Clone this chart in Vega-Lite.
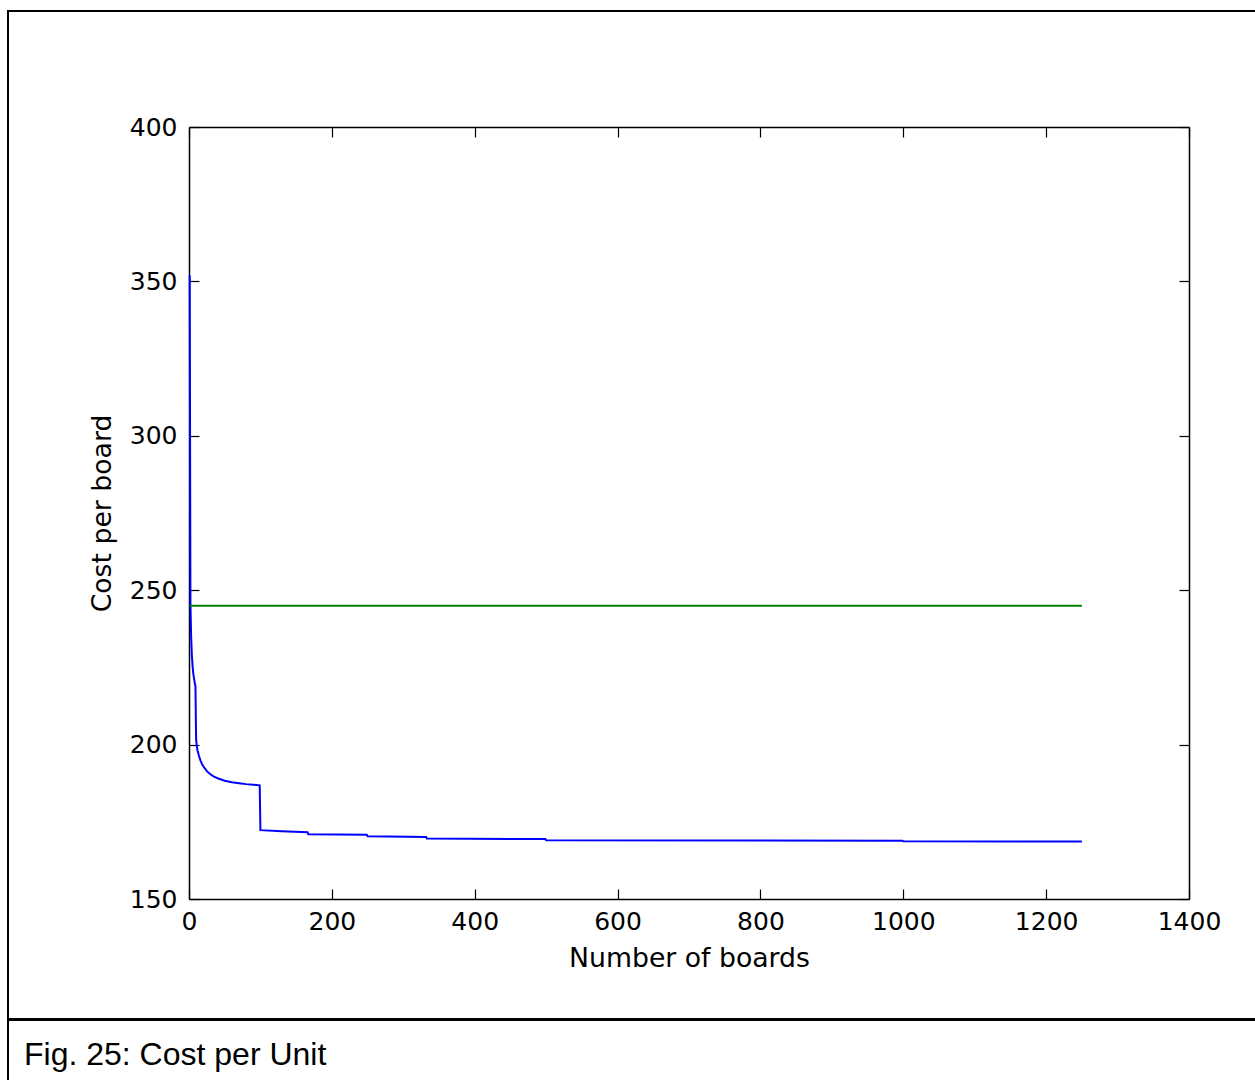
{
  "$schema": "https://vega.github.io/schema/vega-lite/v6.json",
  "padding": {"left": 7, "top": 10, "right": 0, "bottom": 0},
  "background": "white",
  "spacing": -1,
  "config": {
    "view": {"stroke": "black", "strokeWidth": 2},
    "axis": {
      "labelFont": "DejaVu Sans",
      "titleFont": "DejaVu Sans",
      "labelColor": "black",
      "titleColor": "black",
      "labelFontSize": 25,
      "titleFontSize": 26.7,
      "titleFontWeight": "normal",
      "labelFlush": false,
      "labelOverlap": false,
      "domainColor": "black",
      "domainWidth": 1.5,
      "tickColor": "black",
      "tickWidth": 1.2,
      "tickSize": -10,
      "grid": false,
      "zindex": 1
    }
  },
  "datasets": {
    "costPerBoard": [
      {"boards": 1, "cost": 352},
      {"boards": 2, "cost": 246},
      {"boards": 3, "cost": 235},
      {"boards": 4, "cost": 229},
      {"boards": 5, "cost": 225.5},
      {"boards": 6, "cost": 223},
      {"boards": 7, "cost": 221.5},
      {"boards": 8, "cost": 220},
      {"boards": 9, "cost": 219},
      {"boards": 10, "cost": 201.5},
      {"boards": 11, "cost": 199.3},
      {"boards": 12, "cost": 198.1},
      {"boards": 14, "cost": 196.3},
      {"boards": 16, "cost": 194.9},
      {"boards": 18, "cost": 193.8},
      {"boards": 20, "cost": 193.0},
      {"boards": 25, "cost": 191.4},
      {"boards": 30, "cost": 190.4},
      {"boards": 35, "cost": 189.6},
      {"boards": 40, "cost": 189.1},
      {"boards": 50, "cost": 188.3},
      {"boards": 60, "cost": 187.8},
      {"boards": 70, "cost": 187.5},
      {"boards": 80, "cost": 187.2},
      {"boards": 90, "cost": 187.0},
      {"boards": 99, "cost": 186.8},
      {"boards": 100, "cost": 172.3},
      {"boards": 130, "cost": 171.9},
      {"boards": 166, "cost": 171.6},
      {"boards": 167, "cost": 171.0},
      {"boards": 249, "cost": 170.8},
      {"boards": 250, "cost": 170.3},
      {"boards": 332, "cost": 170.1},
      {"boards": 333, "cost": 169.6},
      {"boards": 499, "cost": 169.4},
      {"boards": 500, "cost": 169.0},
      {"boards": 999, "cost": 168.9},
      {"boards": 1000, "cost": 168.7},
      {"boards": 1250, "cost": 168.6}
    ],
    "reference": [
      {"boards": 1, "cost": 245},
      {"boards": 1250, "cost": 245}
    ]
  },
  "vconcat": [
    {
      "width": 1249,
      "height": 1008,
      "layer": [
        {
          "data": {"name": "costPerBoard"},
          "mark": {"type": "line", "color": "#0000ff", "strokeWidth": 2},
          "encoding": {
            "x": {
              "field": "boards",
              "type": "quantitative",
              "scale": {"domain": [0, 1400], "range": [181, 1181], "nice": false, "zero": false},
              "axis": {
                "orient": "bottom",
                "offset": -120,
                "values": [0, 200, 400, 600, 800, 1000, 1200, 1400],
                "format": "d",
                "labelPadding": 20,
                "title": "Number of boards",
                "titlePadding": 11
              }
            },
            "y": {
              "field": "cost",
              "type": "quantitative",
              "scale": {"domain": [150, 400], "range": [888, 116], "nice": false, "zero": false},
              "axis": {
                "orient": "left",
                "offset": -181,
                "values": [150, 200, 250, 300, 350, 400],
                "format": "d",
                "labelPadding": 22,
                "title": "Cost per board",
                "titlePadding": 13
              }
            }
          }
        },
        {
          "data": {"name": "reference"},
          "mark": {"type": "line", "color": "#008000", "strokeWidth": 2},
          "encoding": {
            "x": {
              "field": "boards",
              "type": "quantitative",
              "axis": {
                "orient": "top",
                "offset": -116,
                "values": [0, 200, 400, 600, 800, 1000, 1200, 1400],
                "labels": false,
                "title": null
              }
            },
            "y": {
              "field": "cost",
              "type": "quantitative",
              "axis": {
                "orient": "right",
                "offset": -68,
                "values": [150, 200, 250, 300, 350, 400],
                "labels": false,
                "title": null
              }
            }
          }
        }
      ],
      "resolve": {"axis": {"x": "independent", "y": "independent"}}
    },
    {
      "width": 1249,
      "height": 63,
      "view": {"stroke": "black", "strokeWidth": 2, "fill": "white"},
      "title": {
        "text": "Fig. 25: Cost per Unit",
        "orient": "bottom",
        "anchor": "start",
        "frame": "group",
        "offset": -18,
        "baseline": "alphabetic",
        "dx": 16,
        "font": "Liberation Sans",
        "fontSize": 32,
        "fontWeight": "normal",
        "color": "black"
      },
      "data": {"values": []},
      "mark": "text",
      "encoding": {"text": {"field": "caption", "type": "nominal"}}
    }
  ]
}
